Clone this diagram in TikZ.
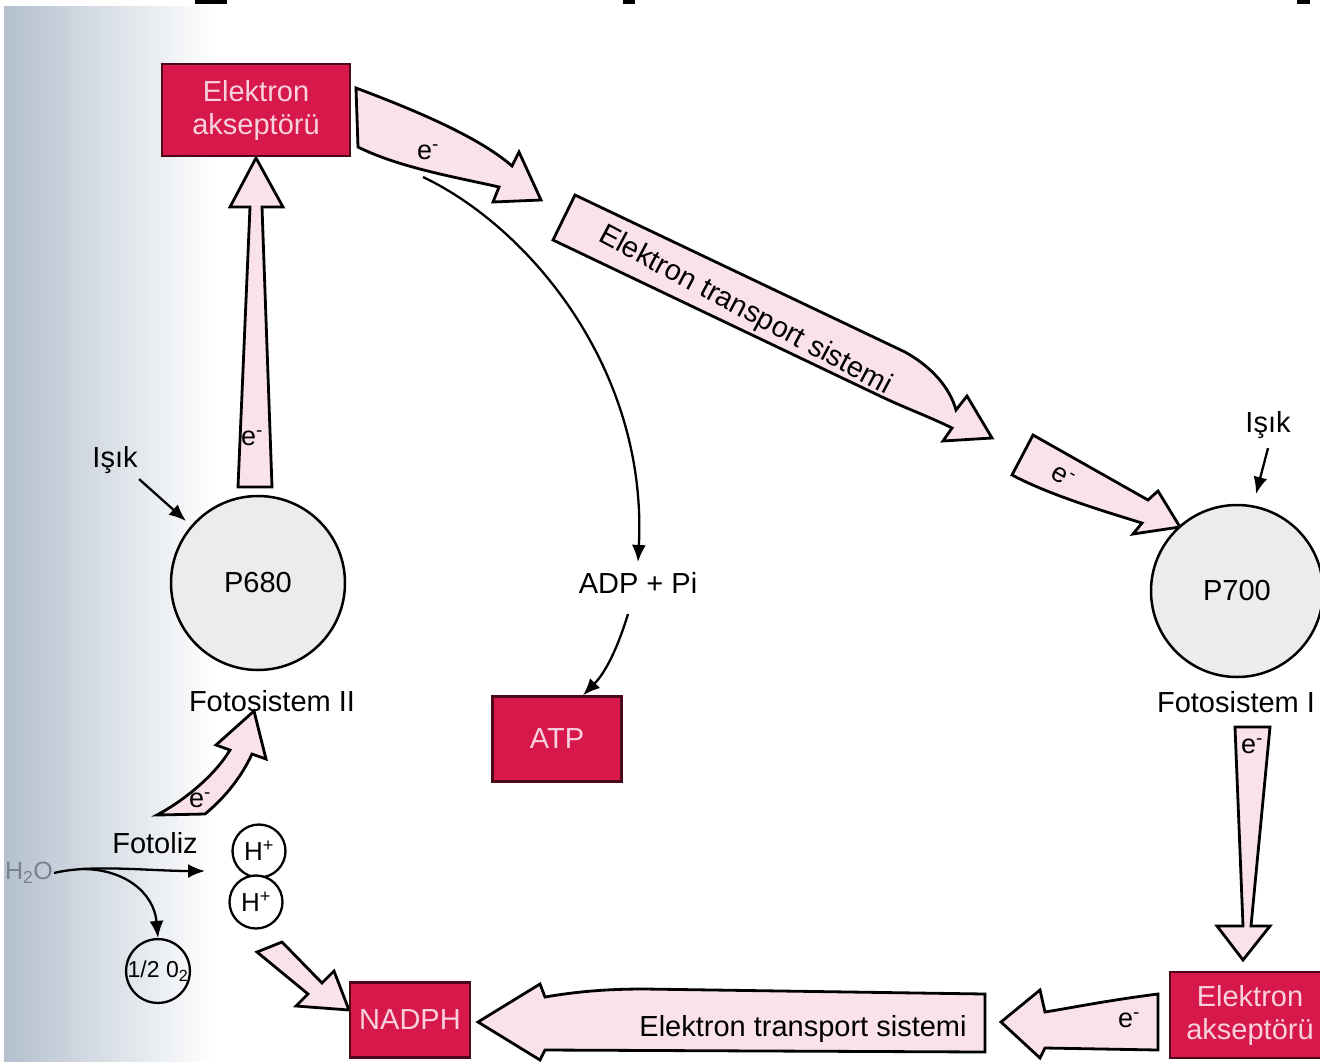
\documentclass[tikz,border=0pt]{standalone}
\usepackage{fontspec}
\setmainfont{Liberation Sans}
\usetikzlibrary{arrows.meta}

\definecolor{boxred}{RGB}{214,24,74}
\definecolor{boxtext}{RGB}{248,208,222}
\definecolor{flowpink}{RGB}{250,226,233}
\definecolor{discgray}{RGB}{237,235,236}
\definecolor{shadowblue}{RGB}{180,192,206}
\definecolor{shadowmid}{RGB}{200,210,222}
\definecolor{h2ogray}{RGB}{120,130,142}

\begin{document}
\begin{tikzpicture}[x=1pt,y=-1pt,
  font=\fontsize{29}{33}\selectfont,
  flow/.style={draw=black,line width=2.8pt,fill=flowpink,line join=miter,miter limit=20},
  thinarrow/.style={draw=black,line width=2.3pt,-{Latex[length=17pt,width=14pt]}},
  redbox/.style={rectangle,draw=black!65!boxred,line width=2.4pt,fill=boxred,
    text=boxtext,align=center,inner sep=0pt},
  disc/.style={circle,draw=black,line width=2.5pt,fill=discgray,inner sep=0pt},
  ion/.style={circle,draw=black,line width=2.3pt,fill=white,inner sep=0pt,
    minimum size=53pt,font=\fontsize{26}{28}\selectfont},
  elabel/.style={font=\fontsize{27}{28}\selectfont,inner sep=0pt}]

\useasboundingbox (0,0) rectangle (1320,1061);
\fill[white] (0,0) rectangle (1320,1061);

% shaded page edge on the left
\shade[left color=shadowblue,middle color=shadowmid,right color=white]
  (4,6) rectangle (215,1061);

% small marks along the top edge
\fill[black] (195,0) rectangle (227,4);
\fill[black] (623,0) rectangle (635,4);
\fill[black] (1297,0) rectangle (1310,4);

% ---------- broad flow arrows ----------
% P680 -> upper acceptor
\path[flow] (238,487) -- (250,207) -- (230,207) -- (256,158) -- (283,207)
  -- (262,207) -- (272,487) -- cycle;
% upper acceptor -> transport chain
\path[flow] (356,88) .. controls (420,112) and (480,138) .. (512,166)
  -- (519,152) -- (541,200) -- (493,202) -- (499,187)
  .. controls (460,178) and (400,168) .. (358,147) -- cycle;
% transport chain (diagonal)
\path[flow] (575,195) -- (905,352) .. controls (932,367) and (950,388) .. (956,410)
  -- (967,396) -- (992,438) -- (943,441) -- (952,428)
  .. controls (930,417) and (905,408) .. (880,396) -- (553,240) -- cycle;
% transport chain -> P700
\path[flow] (1033,435) -- (1148,500) -- (1158,491) -- (1180,527) -- (1133,534)
  -- (1142,523) .. controls (1100,510) and (1050,495) .. (1012,475) -- cycle;
% Fotosistem I -> lower acceptor
\path[flow] (1235,727) -- (1243,926) -- (1217,926) -- (1243,960) -- (1270,926)
  -- (1251,926) -- (1270,727) -- cycle;
% lower acceptor -> transport chain
\path[flow] (1158,994) .. controls (1110,1000) and (1070,1008) .. (1045,1012)
  -- (1040,990) -- (1001,1022) -- (1040,1058) -- (1045,1048) -- (1158,1050) -- cycle;
% transport chain -> NADPH
\path[flow] (985,994) -- (985,1052) -- (545,1050) -- (540,1060) -- (478,1022)
  -- (540,984) -- (545,997) .. controls (580,991) and (610,989) .. (645,989) -- cycle;
% H+ -> NADPH
\path[flow] (257,952) -- (308,994) -- (296,1006) -- (349,1010) -- (334,971)
  -- (322,983) -- (282,942) -- cycle;
% photolysis electron -> Fotosistem II
\path[flow] (157,815) .. controls (185,800) and (215,775) .. (230,750)
  -- (216,745) -- (254,711) -- (266,759) -- (252,754)
  .. controls (240,780) and (222,800) .. (205,814) -- cycle;

% electron labels on the flow arrows
\node[elabel] (e1) at (252,438) {e\textsuperscript{-}};
\node[elabel] (e2) at (428,152) {e\textsuperscript{-}};
\node[elabel,rotate=-30] (e3) at (1063,477) {e\textsuperscript{-}};
\node[elabel] (e4) at (1252,746) {e\textsuperscript{-}};
\node[elabel] (e5) at (1129,1020) {e\textsuperscript{-}};
\node[elabel] (e6) at (200,800) {e\textsuperscript{-}};
\node[rotate=-28,inner sep=0pt] (ets1) at (745,311) {Elektron transport sistemi};
\node[inner sep=0pt] (ets2) at (803,1029) {Elektron transport sistemi};

% ---------- main nodes ----------
\node[redbox,minimum width=188pt,minimum height=92pt] (acc1) at (256,110) {Elektron\\akseptörü};
\node[disc,minimum size=174pt] (p680) at (258,583) {P680};
\node (isik1) at (115,460) {Işık};
\node (fs2) at (272,701) {Fotosistem II};
\node (adp) at (638,583) {ADP + Pi};
\node[redbox,minimum width=129pt,minimum height=85pt] (atp) at (557,739) {ATP};
\node (isik2) at (1268,425) {Işık};
\node[disc,minimum size=172pt] (p700) at (1237,591) {P700};
\node (fs1) at (1236,702) {Fotosistem I};
\node[redbox,minimum width=160pt,minimum height=86pt] (acc2) at (1250,1015) {Elektron\\akseptörü};
\node[redbox,minimum width=120pt,minimum height=75pt] (nadph) at (410,1020) {NADPH};

% photolysis of water
\node[text=h2ogray,inner sep=1pt,font=\fontsize{25}{27}\selectfont] (h2o) at (29,873) {H\textsubscript{2}O};
\node (fotoliz) at (155,843) {Fotoliz};
\node[ion] (hp1) at (259,851) {H\textsuperscript{+}};
\node[ion] (hp2) at (256,902) {H\textsuperscript{+}};
\node[circle,draw=black,line width=2.3pt,minimum size=58pt,inner sep=0pt,
  font=\fontsize{23}{25}\selectfont] (o2) at (158,971) {1/2 0\textsubscript{2}};

% ---------- thin arrows ----------
\coordinate (isik1tip) at (186,521);
\draw[thinarrow] ([shift={(-2pt,-2pt)}]isik1.south east) -- (isik1tip);
\coordinate (isik2tip) at (1256,494);
\draw[thinarrow] ([yshift=-6pt]isik2.south) -- (isik2tip);

\coordinate (atpstart) at (423,177);
\draw[thinarrow] (atpstart) .. controls (530,228) and (648,370) .. ([yshift=7pt]adp.north);
\coordinate (adpout) at (628,614);
\draw[thinarrow] (adpout) .. controls (617,650) and (605,673) .. ([xshift=26pt]atp.north);

\coordinate (fotolizend) at (205,871);
\draw[thinarrow] (h2o.east) .. controls (90,864) and (150,871) .. (fotolizend);
\coordinate (branch) at (82,869);
\draw[thinarrow] (branch) .. controls (125,869) and (154,893) .. (o2.north);

\end{tikzpicture}
\end{document}
